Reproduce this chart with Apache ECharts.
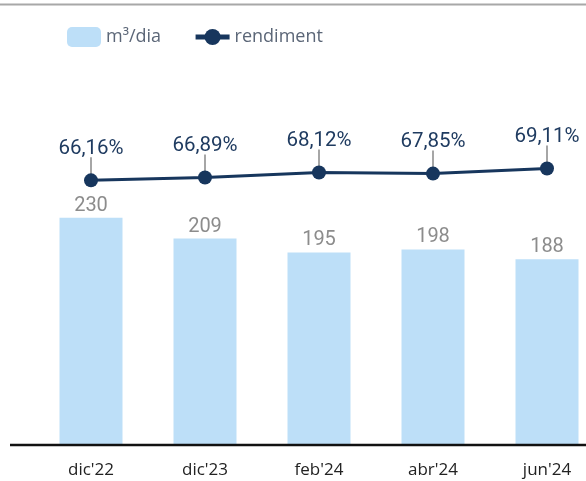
<!DOCTYPE html>
<html><head><meta charset="utf-8">
<script src="https://cdn.jsdelivr.net/npm/echarts@6/dist/echarts.min.js"></script>
<style>html,body{margin:0;padding:0;background:#fff}#c{width:586px;height:481px}</style>
</head><body><div id="c"></div>
<script>
const categories = ["dic'22", "dic'23", "feb'24", "abr'24", "jun'24"];
const volume = [230, 209, 195, 198, 188];
const rendiment = [66.16, 66.89, 68.12, 67.85, 69.11];
const seriesNames = ['m³/dia', 'rendiment'];

const chart = echarts.init(document.getElementById('c'));
const fmtPct = v => v.toFixed(2).replace('.', ',') + '%';
chart.setOption({
  animation: false,
  backgroundColor: '#fff',
  legend: {
    data: [
      { name: seriesNames[0] },
      { name: seriesNames[1], lineStyle: { width: 5 } }
    ],
    left: 62, top: 22,
    itemWidth: 34, itemHeight: 20, itemGap: 32,
    textStyle: { fontFamily: 'Open Sans', fontSize: 18, color: '#5b6677' }
  },
  grid: { left: 34, width: 570, top: 45, bottom: 36, outerBoundsMode: 'none', containLabel: false },
  xAxis: {
    type: 'category', data: categories,
    axisLine: { show: false }, axisTick: { show: false },
    axisLabel: { fontFamily: 'Open Sans', fontSize: 17, color: '#222', margin: 17 }
  },
  yAxis: [
    { type: 'value', min: 0, max: 405, show: false, splitLine: { show: false } },
    { type: 'value', min: 0, max: 100, show: false, splitLine: { show: false } }
  ],
  series: [
    {
      name: seriesNames[0], type: 'bar', data: volume, barWidth: 63,
      itemStyle: { color: '#bddff8' },
      label: { show: true, position: 'top', distance: 2, fontFamily: 'Roboto', fontSize: 20, color: '#8c8c8c' }
    },
    {
      type: 'custom', yAxisIndex: 1, z: 1, silent: true,
      data: rendiment.map((v, i) => [i, v]),
      renderItem: (params, api) => {
        const p = api.coord([api.value(0), api.value(1)]);
        return { type: 'line', shape: { x1: p[0], y1: p[1] - 23, x2: p[0], y2: p[1] - 6 },
                 style: { stroke: '#a6a6a6', lineWidth: 2 } };
      }
    },
    {
      name: seriesNames[1], type: 'line', yAxisIndex: 1, data: rendiment, z: 3,
      symbol: 'circle', symbolSize: 14,
      lineStyle: { color: '#17365d', width: 3 },
      itemStyle: { color: '#17365d' },
      label: { show: true, position: 'top', distance: 14, fontFamily: 'Roboto', fontSize: 20.5, color: '#1f3b60',
               formatter: p => fmtPct(p.value) }
    }
  ],
  graphic: [
    { type: 'line', shape: { x1: 0, y1: 4.5, x2: 586, y2: 4.5 }, style: { stroke: '#a8a8a8', lineWidth: 2 } },
    { type: 'line', shape: { x1: 10, y1: 445, x2: 586, y2: 445 }, style: { stroke: '#111', lineWidth: 2.5 }, z: 10 }
  ]
});
</script></body></html>
